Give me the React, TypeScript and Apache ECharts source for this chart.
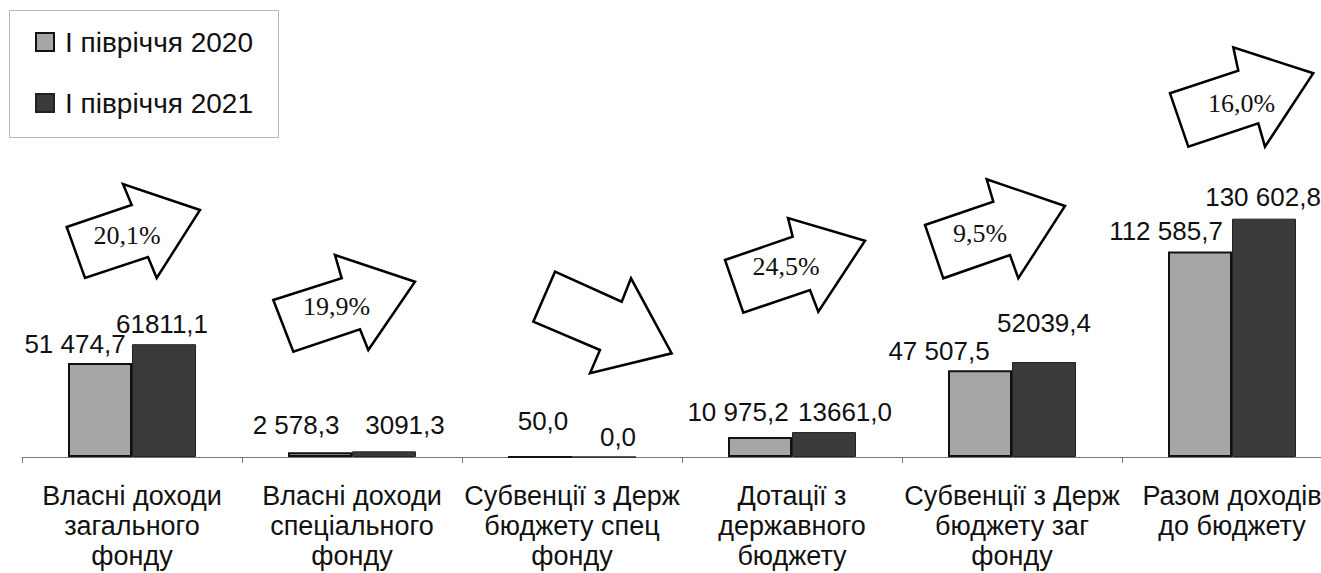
import React, { useEffect, useRef } from "react";
import * as echarts from "echarts";

const categories = [
  "Власні доходи\nзагального\nфонду",
  "Власні доходи\nспеціального\nфонду",
  "Субвенції з Держ\nбюджету спец\nфонду",
  "Дотації з\nдержавного\nбюджету",
  "Субвенції з Держ\nбюджету заг\nфонду",
  "Разом доходів\nдо бюджету",
];
const seriesNames = ["I півріччя 2020", "I півріччя 2021"];
const values2020 = [51474.7, 2578.3, 50.0, 10975.2, 47507.5, 112585.7];
const values2021 = [61811.1, 3091.3, 0.0, 13661.0, 52039.4, 130602.8];
const labels2020 = ["51 474,7", "2 578,3", "50,0", "10 975,2", "47 507,5", "112 585,7"];
const labels2021 = ["61811,1", "3091,3", "0,0", "13661,0", "52039,4", "130 602,8"];
const growthLabels = ["20,1%", "19,9%", "", "24,5%", "9,5%", "16,0%"];

// label nudges (style only)
const nudge2020 = [[-25, -1], [-24, -9], [3, -17], [-22, -7], [-41, -1], [-34, -3]];
const nudge2021 = [[-2, -2], [21, -8], [14, -2], [21, -2], [0, -21], [-1, -4]];

// arrow outlines (annotation shapes)
const arrowShapes = [
  { pts: [[66.7, 227], [131.7, 205], [123, 184], [200, 210], [156.7, 278], [148, 257], [85, 278]], text: [127, 235] },
  { pts: [[273.3, 300], [341.7, 278.3], [335, 255], [415, 281.7], [368.3, 350], [360, 329.3], [293.3, 351.7]], text: [336.7, 306.7] },
  { pts: [[555, 271.7], [621.7, 301.7], [631, 278.3], [671.7, 353.3], [590, 373.3], [600, 350], [533.3, 321.7]], text: [600, 320] },
  { pts: [[725, 260], [792.7, 236.7], [788, 218], [865, 240.7], [818.3, 311.7], [810, 290], [743.3, 312.7]], text: [786, 266.7] },
  { pts: [[925, 225], [993.3, 201.7], [986.7, 179.3], [1065, 206], [1018.3, 278.3], [1010, 255], [943.3, 278.3]], text: [980, 233.3] },
  { pts: [[1170, 93.3], [1238.3, 70.7], [1233.3, 47.3], [1313.3, 73.3], [1265, 146.7], [1258.3, 123.3], [1188.3, 146.7]], text: [1241.7, 103.3] },
];

export default function App() {
  const ref = useRef<HTMLDivElement>(null);
  useEffect(() => {
    if (!ref.current) return;
    const chart = echarts.init(ref.current, null, { renderer: "svg" });
    const sans = "'Liberation Sans', Arial, sans-serif";
    const serif = "'Liberation Serif', 'Times New Roman', serif";

    const mkData = (vals: number[], labs: string[], nudge: number[][]) =>
      vals.map((v, i) => ({
        value: v,
        label: { formatter: labs[i], offset: nudge[i] },
      }));

    const graphics: any[] = [
      {
        type: "rect",
        left: 7,
        top: 8,
        shape: { width: 269, height: 127 },
        style: { fill: "none", stroke: "#b8b8b8", lineWidth: 1 },
        z: 0,
      },
    ];
    arrowShapes.forEach((a, i) => {
      graphics.push({
        type: "polygon",
        shape: { points: a.pts },
        style: { fill: "#fff", stroke: "#000", lineWidth: 2.5, lineJoin: "miter" },
        z: 10,
      });
      if (growthLabels[i]) {
        graphics.push({
          type: "text",
          x: a.text[0],
          y: a.text[1],
          style: {
            text: growthLabels[i],
            font: `26px ${serif}`,
            fill: "#111",
            align: "center",
            verticalAlign: "middle",
          },
          z: 11,
        });
      }
    });

    chart.setOption({
      animation: false,
      backgroundColor: "#fff",
      legend: {
        orient: "vertical",
        left: 30,
        top: 23,
        itemWidth: 18,
        itemHeight: 18,
        itemGap: 33,
        icon: "rect",
        textStyle: {
          fontFamily: sans,
          fontSize: 28,
          lineHeight: 28,
          color: "#111",
          padding: [0, 0, 0, 6],
        },
        data: seriesNames,
      },
      grid: { left: 22, width: 1320, top: 92, bottom: 116, containLabel: false, outerBoundsMode: "none" },
      xAxis: {
        type: "category",
        data: categories,
        axisLine: { lineStyle: { color: "#777", width: 1 } },
        axisTick: { show: true, length: 6, lineStyle: { color: "#777" } },
        axisLabel: {
          interval: 0,
          margin: 24,
          fontFamily: sans,
          fontSize: 27,
          lineHeight: 30,
          color: "#111",
          align: "center",
        },
      },
      yAxis: { type: "value", min: 0, max: 200000, show: false, splitLine: { show: false } },
      series: [
        {
          name: seriesNames[0],
          type: "bar",
          barWidth: 64,
          barGap: "0%",
          data: mkData(values2020, labels2020, nudge2020),
          itemStyle: { color: "#a6a6a6", borderColor: "#111", borderWidth: 2 },
          label: {
            show: true,
            position: "top",
            fontFamily: sans,
            fontSize: 26,
            color: "#111",
          },
        },
        {
          name: seriesNames[1],
          type: "bar",
          barWidth: 64,
          barGap: "0%",
          data: mkData(values2021, labels2021, nudge2021),
          itemStyle: { color: "#3a3a3a", borderColor: "#222", borderWidth: 1 },
          label: {
            show: true,
            position: "top",
            fontFamily: sans,
            fontSize: 26,
            color: "#111",
          },
        },
      ],
      graphic: graphics,
    });
    return () => chart.dispose();
  }, []);
  return (
    <div
      ref={ref}
      style={{ position: "fixed", left: 0, top: 0, width: 1321, height: 573, background: "#fff" }}
    />
  );
}
